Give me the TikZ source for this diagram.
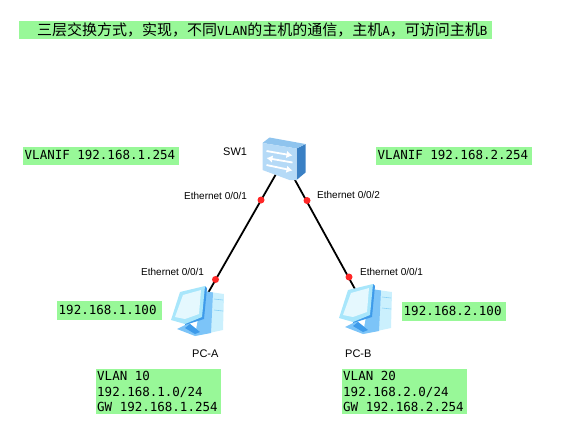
\documentclass[tikz,border=0pt]{standalone}
\usepackage{fontspec}
\usetikzlibrary{arrows.meta}
\setmainfont{Liberation Sans}
\newfontfamily\cjk{Noto Sans CJK SC}
\newfontfamily\monof{DejaVu Sans Mono}
\newcommand{\lat}[1]{{\monof\fontsize{12.5}{16}\selectfont #1}}
\definecolor{notegreen}{HTML}{98F898}
\definecolor{swtop}{HTML}{8FC4EE}
\definecolor{swfront}{HTML}{B5DAF7}
\definecolor{swside}{HTML}{3A80C4}
\definecolor{pclight}{HTML}{A8E6FB}
\definecolor{pcmid}{HTML}{7CC4F8}
\definecolor{pcdark}{HTML}{3E9BEA}
\tikzset{
  note/.style={fill=notegreen, inner xsep=1.5pt, inner ysep=0pt, align=flush left, anchor=north west, font=\fontsize{12.5}{15.2}\selectfont\monof},
  portlabel/.style={inner sep=0pt, anchor=west, font=\fontsize{10}{12}\selectfont},
  devlabel/.style={inner sep=0pt, anchor=west, font=\fontsize{11}{13}\selectfont},
  port/.style={shape=circle, fill=red!85!white, inner sep=0pt, minimum size=7pt},
  link/.style={-, line width=1.8pt, draw=black},
  swarrow/.style={white, line width=1.8pt, >={Latex[length=6pt,width=7.5pt]}},
  pcicon/.pic={
    % tower
    \fill[white!40!pclight] (33,5) -- (54,8) -- (53,44) -- (25,50) -- cycle;
    \fill[pcmid] (33,5) -- (43,6.5) -- (41,47) -- (25,50) -- cycle;
    \draw[pclight!70!pcdark, line width=0.6pt] (44,13) -- (53,14) (44,24) -- (53,25);
    % foot
    \fill[pcmid] (7,43) -- (19,37) -- (30,46) -- (25,50) -- cycle;
    \fill[pcdark] (15,42) -- (20,38) -- (30,46) -- (25,48) -- cycle;
    % monitor
    \fill[pcdark] (35,0) -- (37,2) -- (34,33) -- (15,39) -- (15,38) -- cycle;
    \fill[pclight] (1,34) -- (10,6) -- (35,0) -- (32,31) -- (15,38) -- cycle;
    \fill[white!70!pclight] (5,31) -- (13,9) -- (31,4) -- (29,28) -- (15,33) -- cycle;
  },
  swicon/.pic={
    \fill[swside] (34,11) -- (43,6.5) -- (43,35) -- (34,42.5) -- cycle;
    \fill[swtop] (0,5.5) -- (7,0) -- (43,6.5) -- (34,11) -- cycle;
    \fill[swfront] (0,5.5) -- (34,11) -- (34,42.5) -- (27,42.5) -- (0,32.5) -- cycle;
    \draw[swarrow, ->] (4,13.5) -- (30,18);
    \draw[swarrow, <-] (4,20.5) -- (30,25);
    \draw[swarrow, ->] (4,27.5) -- (30,33);
  }
}
\begin{document}
\begin{tikzpicture}[x=1pt, y=-1pt]
\useasboundingbox (0,0) rectangle (578,447);
\coordinate (SW) at (284,160);
\coordinate (PCA) at (204,300);
\coordinate (PCB) at (361,300);
\path [link] (SW) edge (PCA);
\path [link] (SW) edge (PCB);
\node[port] (P1) at (261,200) {};
\node[port] (P2) at (307,200.5) {};
\node[port] (P3) at (215.5,279.5) {};
\node[port] (P4) at (349,277) {};
\pic at (262.5,137.5) {swicon};
\pic at (170,286) {pcicon};
\pic at (338,284) {pcicon};
\node[fill=notegreen, minimum width=473pt, minimum height=18pt, inner sep=0pt, anchor=north west] (titlebar) at (19,21) {};
\node[anchor=west, inner sep=0pt, font=\fontsize{15}{16}\selectfont\cjk] (title) at (37,30) {三层交换方式，实现，不同\lat{VLAN}的主机的通信，主机\lat{A}，可访问主机\lat{B}};
\node[note, text width=153pt, text height=11pt, text depth=4pt, inner ysep=1.5pt] (ifa) at (23,147) {VLANIF 192.168.1.254};
\node[note, text width=153pt, text height=11pt, text depth=4pt, inner ysep=1.5pt] (ifb) at (376,147) {VLANIF 192.168.2.254};
\node[note, text width=102pt, text height=12pt, text depth=4pt, inner ysep=1.5pt] (ipa) at (57,301) {192.168.1.100};
\node[note, text width=101pt, text height=12pt, text depth=4pt, inner ysep=1.5pt] (ipb) at (402,302) {192.168.2.100};
\node[note, text width=122pt, inner ysep=2.5pt] (neta) at (95.5,369) {VLAN 10\\192.168.1.0/24\\GW 192.168.1.254};
\node[note, text width=122pt, inner ysep=2.5pt] (netb) at (341.5,369) {VLAN 20\\192.168.2.0/24\\GW 192.168.2.254};
\node[devlabel] (swname) at (223,152) {SW1};
\node[portlabel] (l1) at (184,196) {Ethernet 0/0/1};
\node[portlabel] (l2) at (317,195) {Ethernet 0/0/2};
\node[portlabel] (l3) at (141,272) {Ethernet 0/0/1};
\node[portlabel] (l4) at (360,272) {Ethernet 0/0/1};
\node[devlabel] (pca) at (192,354) {PC-A};
\node[devlabel] (pcb) at (345,354) {PC-B};
\end{tikzpicture}
\end{document}
